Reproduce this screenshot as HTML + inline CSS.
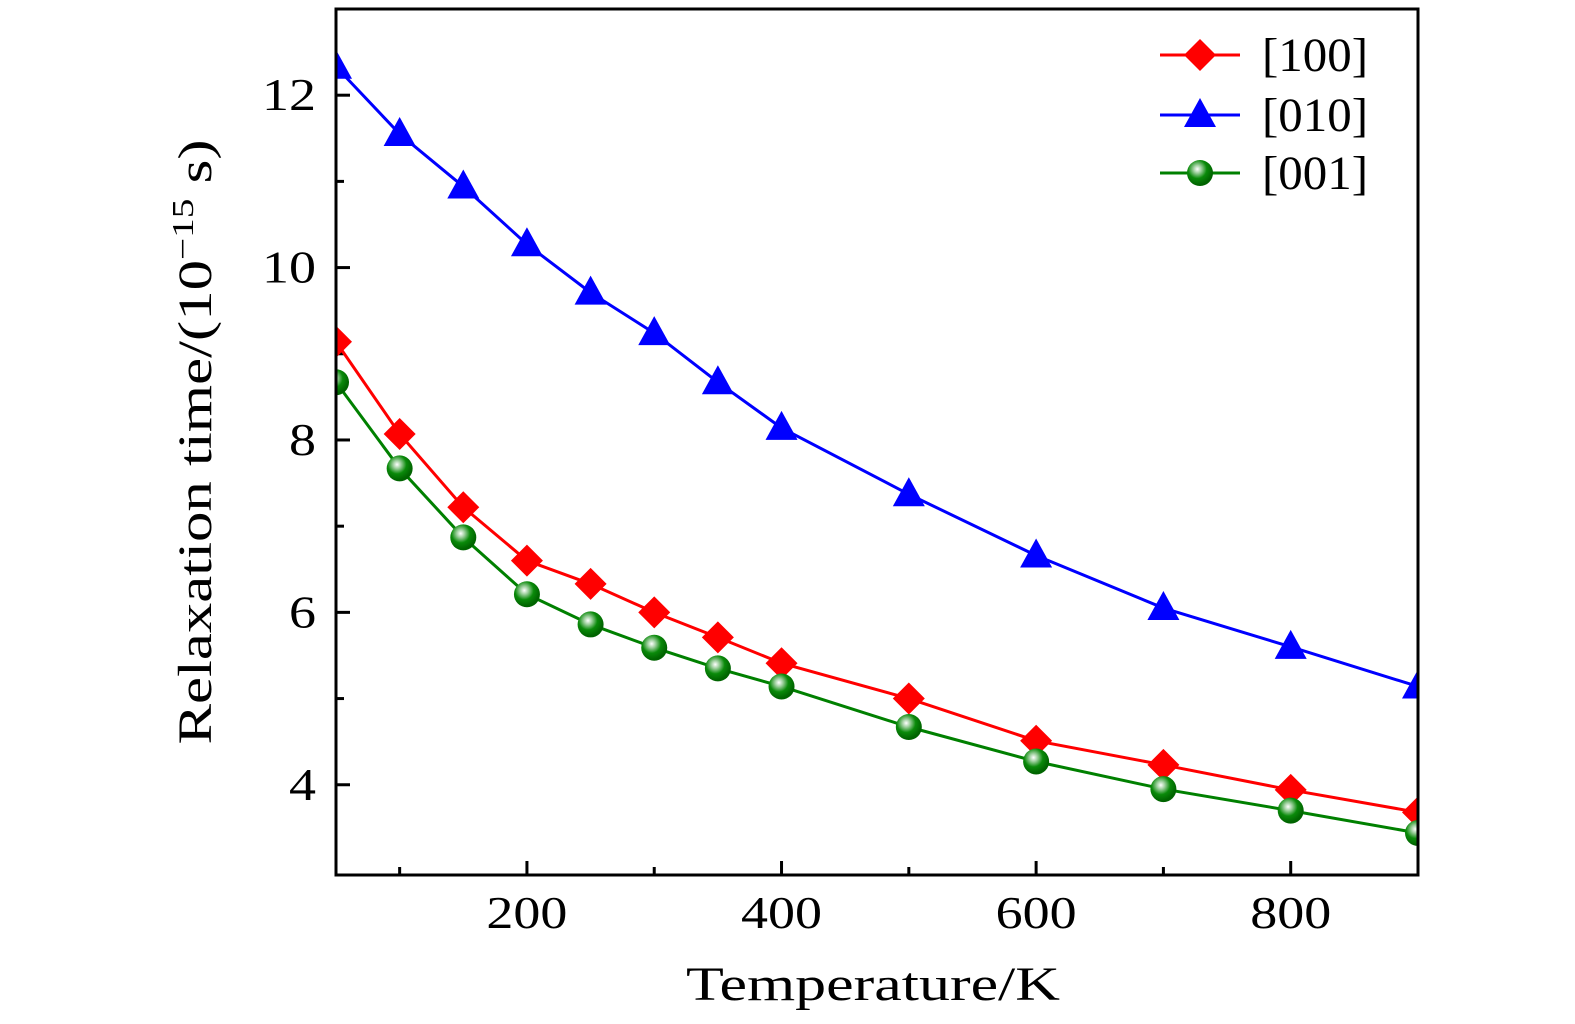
<!DOCTYPE html>
<html><head><meta charset="utf-8"><style>
html,body{margin:0;padding:0;background:#fff;}
svg{display:block;font-family:"Liberation Serif","DejaVu Serif",serif;}
</style></head><body>
<svg id="chart" width="1575" height="1024" viewBox="0 0 1575 1024" xmlns="http://www.w3.org/2000/svg">
<defs>
<radialGradient id="ball" cx="0.4" cy="0.35" r="0.6">
<stop offset="0" stop-color="#ffffff"/><stop offset="0.25" stop-color="#9fd09f"/><stop offset="0.6" stop-color="#0a8a0a"/><stop offset="1" stop-color="#006400"/>
</radialGradient>
</defs>
<g id="plot"></g>
</svg>
<script>
const temps = [50,100,150,200,250,300,350,400,500,600,700,800,900];
const s100 = [9.14,8.07,7.22,6.6,6.33,6.0,5.71,5.41,5.0,4.51,4.23,3.94,3.68];
const s010 = [12.33,11.55,10.94,10.27,9.71,9.24,8.67,8.14,7.37,6.66,6.05,5.6,5.14];
const s001 = [8.67,7.67,6.87,6.21,5.86,5.59,5.35,5.14,4.67,4.27,3.95,3.70,3.44];
const xTicks = [200,400,600,800];
const xMinor = [100,300,500,700,900];
const yTicks = [4,6,8,10,12];
const yMinor = [5,7,9,11];
const NS="http://www.w3.org/2000/svg";
const L=336,R=1418,T=9,B=875,X0=50,X1=900,Y0=2.953,Y1=13;
const sx=v=>L+(v-X0)/(X1-X0)*(R-L);
const sy=v=>B-(v-Y0)/(Y1-Y0)*(B-T);
const g=document.getElementById('plot');
function el(t,a,p){const e=document.createElementNS(NS,t);for(const k in a)e.setAttribute(k,a[k]);(p||g).appendChild(e);return e;}
xTicks.forEach(v=>{const e=el('line',{x1:sx(v),x2:sx(v),y1:B,y2:B-14,stroke:'#000','stroke-width':3});


const t=el('text',{x:sx(v),y:928,'font-size':46,'text-anchor':'middle',textLength:81,lengthAdjust:'spacingAndGlyphs'});t.textContent=v;

});
xMinor.forEach(v=>{const e=el('line',{x1:sx(v),x2:sx(v),y1:B,y2:B-8,stroke:'#000','stroke-width':3});

});
yTicks.forEach(v=>{const e=el('line',{x1:L,x2:L+14,y1:sy(v),y2:sy(v),stroke:'#000','stroke-width':3});


const s=String(v);
const t=el('text',{x:316,y:sy(v)+15,'font-size':46,'text-anchor':'end',textLength:27*s.length,lengthAdjust:'spacingAndGlyphs'});t.textContent=s;

});
yMinor.forEach(v=>{const e=el('line',{x1:L,x2:L+8,y1:sy(v),y2:sy(v),stroke:'#000','stroke-width':3});

});
function marker(kind,x,y,color){
 let e;
 if(kind==='d') e=el('polygon',{points:`${x},${y-16} ${x+16},${y} ${x},${y+16} ${x-16},${y}`,fill:color});
 else if(kind==='t') e=el('polygon',{points:`${x},${y-17} ${x+16},${y+12} ${x-16},${y+12}`,fill:color});
 else e=el('circle',{cx:x,cy:y,r:13,fill:'url(#ball)'});
 return e;
}
const series=[['series-100',s100,'#ff0000','d'],['series-010',s010,'#0000ff','t'],['series-001',s001,'#008000','c']];
const clip=el('clipPath',{id:'cp'});el('rect',{x:L,y:T,width:R-L,height:B-T},clip);
series.forEach(([name,arr,col,k])=>{
 const grp=el('g',{'clip-path':'url(#cp)'});
 
 
 const pl=el('polyline',{points:arr.map((v,i)=>sx(temps[i])+','+sy(v)).join(' '),fill:'none',stroke:col,'stroke-width':3},grp);
 
 
 arr.forEach((v,i)=>{const m=marker(k,sx(temps[i]),sy(v),col);grp.appendChild(m);
 
 });
});
const frame=el('path',{d:`M${L},${T} H${R} V${B} H${L} Z`,fill:'none',stroke:'#000','stroke-width':3});


const labels=['[100]','[010]','[001]'];
const legY=[55,115,173];
series.forEach(([name,arr,col,k],i)=>{
 const lg=el('g',{});
 
 
 el('line',{x1:1160,x2:1240,y1:legY[i],y2:legY[i],stroke:col,'stroke-width':3},lg);
 lg.appendChild(marker(k,1200,legY[i],col));
 const t=el('text',{x:1262,y:legY[i]+16,'font-size':48,textLength:106,lengthAdjust:'spacingAndGlyphs'},lg);t.textContent=labels[i];
});
const xt=el('text',{x:873,y:1000,'font-size':48,'text-anchor':'middle',textLength:374,lengthAdjust:'spacingAndGlyphs'});xt.textContent='Temperature/K';


const yt=el('text',{transform:'translate(211,442) rotate(-90)','font-size':48,'text-anchor':'middle',textLength:605,lengthAdjust:'spacingAndGlyphs'});


yt.innerHTML='Relaxation time/(10<tspan dy="-18" font-size="31">−15</tspan><tspan dy="18"> s)</tspan>';
</script>
</body></html>
